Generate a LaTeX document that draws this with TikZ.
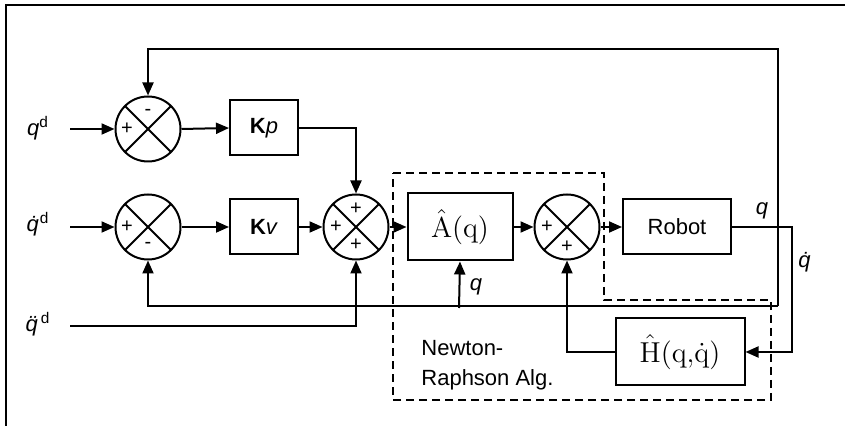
\documentclass[tikz,border=0pt]{standalone}
\usepackage{amsmath}
\usepackage[no-math]{fontspec}
\setmainfont{Liberation Sans}
\usetikzlibrary{arrows.meta}

\tikzset{
 blk/.style={draw, line width=1pt, inner sep=0pt, font=\fontsize{11}{13}\selectfont},
 sumj/.style={circle, draw, line width=1pt, minimum size=32.5pt, inner sep=0pt,
  path picture={
   \draw[line width=1pt] (path picture bounding box.north west) -- (path picture bounding box.south east);
   \draw[line width=1pt] (path picture bounding box.south west) -- (path picture bounding box.north east);
  }},
 sgn/.style={inner sep=0pt, font=\fontsize{10}{11}\selectfont},
 lbl/.style={inner sep=0pt, font=\fontsize{11}{13}\selectfont},
 arr/.style={line width=1pt, -{Triangle[length=6.5pt,width=5.5pt]}},
}

\begin{document}
\begin{tikzpicture}[x=0.5pt, y=-0.5pt]
 \useasboundingbox (0,0) rectangle (845,426);
 % frame
 \draw[line width=0.8pt] (845,5) -- (6,5) -- (6,426);

 % inputs
 \node[lbl] at (38,128)(qd){\textit{q}\textsuperscript{d}};
 \node[lbl] at (38,224)(qdd){\textit{\.{q}}\textsuperscript{d}};
 \node[lbl] at (38,324)(qddd){\textit{\"{q}}\textsuperscript{d}};
 \coordinate (in1) at (70,129);
 \coordinate (in2) at (70,227);
 \coordinate (in3) at (70,326);

 % summing junctions
 \node[sumj] at (148,129)(s1){};
 \node[sumj] at (148,227)(s2){};
 \node[sumj] at (356,227)(s3){};
 \node[sumj] at (567,227)(s4){};
 \node[sgn] at ([shift={(-21,0)}]s1.center)(s1a){+};
 \node[sgn] at ([shift={(0,-17)}]s1.center)(s1b){-};
 \node[sgn] at ([shift={(-21,0)}]s2.center)(s2a){+};
 \node[sgn] at ([shift={(0,18)}]s2.center)(s2b){-};
 \node[sgn] at ([shift={(0,-18)}]s3.center)(s3a){+};
 \node[sgn] at ([shift={(-20,0)}]s3.center)(s3b){+};
 \node[sgn] at ([shift={(0,18)}]s3.center)(s3c){+};
 \node[sgn] at ([shift={(-20,0)}]s4.center)(s4a){+};
 \node[sgn] at ([shift={(0,20)}]s4.center)(s4b){+};

 % blocks
 \node[blk, minimum width=34pt, minimum height=27.5pt] at (264,128)(kp){\textbf{K}\textit{p}};
 \node[blk, minimum width=34pt, minimum height=27.5pt] at (264,227)(kv){\textbf{K}\textit{v}};
 \node[blk, minimum width=52.5pt, minimum height=33.5pt, font=\fontsize{15}{18}\selectfont] at (460,227)(ahat){$\hat{\mathrm{A}}(\mathrm{q})$};
 \node[blk, minimum width=54pt, minimum height=27.5pt] at (677,227)(robot){Robot};
 \node[blk, minimum width=64.5pt, minimum height=33.5pt, font=\fontsize{15}{18}\selectfont] at (680,352)(hhat){$\hat{\mathrm{H}}(\mathrm{q}{,}\dot{\mathrm{q}})$};

 % Newton-Raphson part
 \draw[line width=0.8pt, dash pattern=on 4pt off 2.5pt]
  (393,173) -- (604,173) -- (604,300) -- (771,300) -- (771,400) -- (393,400) -- cycle;
 \node[lbl, anchor=west, align=left, font=\fontsize{11}{15}\selectfont] at (421,365)(nr){Newton-\\Raphson Alg.};

 % feedback corners
 \coordinate (fbtop) at (778,49);
 \coordinate (fbbot) at (778,306);
 \coordinate (yout) at (792,227);
 \coordinate (qin) at (459,308);

 % connectors
 \draw[arr] (in1) -- (s1.west);
 \draw[arr] (in2) -- (s2.west);
 \draw[arr] (in3) -| (s3.south);
 \draw[arr] (s1.east) -- (kp.west);
 \draw[arr] (s2.east) -- (kv.west);
 \draw[arr] (kp.east) -| (s3.north);
 \draw[arr] (kv.east) -- (s3.west);
 \draw[arr] (s3.east) -- (ahat.west);
 \draw[arr] (ahat.east) -- (s4.west);
 \draw[arr] (s4.east) -- (robot.west);
 \draw[arr] (fbbot) -- (fbtop) -| (s1.north);
 \draw[arr] (fbbot) -| (s2.south);
 \draw[arr] (robot.east) -- (yout) |- (hhat.east);
 \draw[arr] (hhat.west) -| (s4.south);
 \draw[arr] (qin) -- (ahat.south);

 % signal labels
 \node[lbl] at (762,211)(lq){\textit{q}};
 \node[lbl] at (805,262)(lqd){\textit{\.{q}}};
 \node[lbl] at (476,287)(lqa){\textit{q}};
\end{tikzpicture}
\end{document}
